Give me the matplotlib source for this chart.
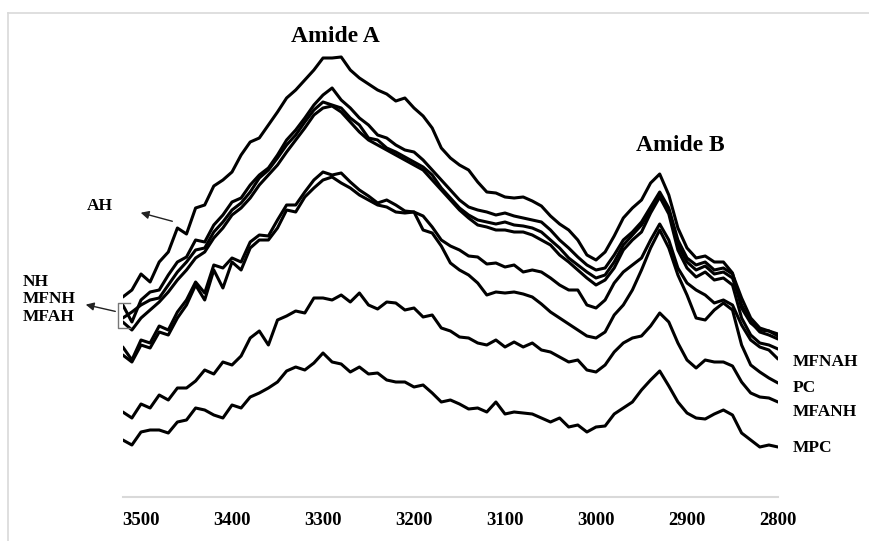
import numpy as np
import matplotlib
matplotlib.use("Agg")
import matplotlib.pyplot as plt

W, H = 870, 541
SERIF = ["Liberation Serif", "DejaVu Serif"]
FRAME = "#d9d9d9"

# wavenumber grid (cm-1), high to low
wavenumber = np.arange(3520, 2790, -10)

# absorbance, arbitrary units (x100, stacked as recorded)
AH = [203, 210, 226, 218, 238, 248, 272, 266, 292, 295,
      314, 320, 328, 345, 358, 362, 375, 388, 402, 410,
      420, 430, 442, 442, 443, 430, 422, 416, 410, 406,
      399, 402, 392, 384, 372, 352, 342, 335, 330, 318,
      308, 307, 303, 302, 303, 299, 294, 284, 276, 270,
      260, 245, 240, 248, 264, 282, 292, 300, 317, 326,
      305, 272, 252, 242, 244, 238, 238, 227, 192, 177,
      170, 169, 166]
NH = [195, 178, 200, 208, 210, 225, 238, 243, 260, 258,
      275, 285, 298, 302, 315, 325, 332, 345, 360, 370,
      382, 395, 405, 412, 400, 392, 382, 375, 365, 362,
      355, 350, 348, 340, 330, 320, 310, 300, 293, 290,
      288, 285, 287, 284, 282, 280, 278, 270, 260, 252,
      243, 235, 230, 232, 245, 260, 268, 278, 293, 308,
      292, 260, 242, 235, 238, 230, 232, 226, 202, 182,
      172, 169, 164]
MFNH = [182, 188, 195, 200, 202, 215, 228, 238, 250, 252,
        268, 278, 290, 297, 308, 322, 330, 342, 355, 365,
        378, 390, 398, 395, 392, 382, 375, 362, 360, 352,
        348, 343, 338, 333, 325, 312, 302, 292, 285, 280,
        278, 276, 278, 275, 274, 272, 268, 260, 252, 242,
        235, 228, 222, 225, 238, 255, 265, 275, 290, 305,
        290, 255, 238, 230, 234, 226, 228, 222, 195, 178,
        168, 165, 161]
MFAH = [178, 170, 182, 190, 198, 208, 220, 230, 242, 248,
        262, 272, 285, 292, 302, 315, 325, 335, 348, 360,
        372, 385, 392, 394, 388, 378, 368, 360, 355, 350,
        345, 340, 335, 330, 320, 310, 300, 290, 282, 275,
        273, 270, 270, 268, 268, 265, 260, 255, 245, 238,
        230, 222, 215, 220, 232, 250, 260, 268, 287, 303,
        286, 250, 232, 223, 228, 220, 222, 215, 182, 165,
        157, 155, 151]
MFNAH = [153, 140, 160, 157, 174, 170, 188, 200, 218, 207,
         235, 232, 242, 238, 258, 265, 264, 280, 295, 295,
         308, 320, 328, 325, 327, 318, 310, 304, 297, 300,
         295, 289, 288, 284, 273, 260, 254, 250, 244, 243,
         236, 237, 233, 235, 228, 230, 228, 222, 215, 210,
         210, 195, 192, 200, 217, 228, 235, 242, 260, 276,
         260, 232, 217, 210, 205, 197, 200, 195, 175, 160,
         153, 150, 141]
PC = [145, 138, 155, 152, 168, 165, 182, 195, 215, 200,
      230, 212, 238, 230, 252, 260, 260, 272, 290, 288,
      303, 312, 320, 323, 317, 312, 305, 300, 295, 293,
      288, 287, 288, 270, 267, 254, 237, 230, 225, 217,
      205, 208, 207, 208, 206, 203, 196, 188, 182, 176,
      170, 164, 162, 168, 185, 195, 210, 230, 252, 270,
      252, 225, 205, 182, 180, 190, 197, 190, 155, 135,
      128, 122, 117]
MFANH = [88, 82, 96, 92, 105, 100, 112, 112, 119, 130,
         126, 138, 135, 144, 162, 169, 155, 180, 184, 189,
         187, 202, 202, 200, 205, 198, 207, 195, 191, 198,
         197, 190, 192, 183, 185, 172, 169, 163, 162, 157,
         155, 160, 153, 158, 153, 157, 150, 148, 143, 138,
         140, 130, 128, 135, 148, 157, 162, 164, 174, 187,
         178, 157, 140, 132, 140, 138, 138, 134, 118, 107,
         103, 102, 98]
MPC = [60, 55, 68, 70, 70, 67, 78, 80, 92, 90,
       85, 82, 95, 92, 103, 107, 112, 118, 129, 133,
       130, 137, 147, 138, 136, 128, 133, 126, 127, 120,
       118, 118, 113, 115, 107, 98, 100, 96, 91, 92,
       88, 98, 86, 88, 87, 86, 82, 78, 82, 73,
       75, 68, 73, 74, 86, 92, 98, 110, 120, 129,
       114, 98, 87, 82, 81, 86, 90, 85, 67, 60,
       53, 55, 53]

samples = [AH, NH, MFNH, MFAH, MFNAH, PC, MFANH, MPC]
ticks = [3500, 3400, 3300, 3200, 3100, 3000, 2900, 2800]


def fx(px):
    return px / W


def fy(py):
    return 1 - py / H


fig = plt.figure(figsize=(W / 100, H / 100), dpi=100, facecolor="white")

# light frame around the plot area
fig.add_artist(plt.Line2D([fx(8), fx(8)], [fy(13), 0], color=FRAME, lw=1.2))
fig.add_artist(plt.Line2D([fx(8), 1], [fy(13), fy(13)], color=FRAME, lw=1.2))

ax = fig.add_axes([fx(122.8), 1 - 497 / H, (778 - 122.8) / W, 497 / H])
ax.set_xlim(3520, 2800)
ax.set_ylim(3, 500)
for y in samples:
    ax.plot(wavenumber, y, color="black", lw=2.2, solid_joinstyle="round",
            solid_capstyle="round")

for s in ["top", "left", "right"]:
    ax.spines[s].set_visible(False)
ax.spines["bottom"].set_color(FRAME)
ax.spines["bottom"].set_linewidth(1.5)
ax.set_yticks([])
ax.set_xticks(ticks)
ax.set_xticklabels([str(t) for t in ticks], fontfamily=SERIF, fontweight="bold",
                   fontsize=13.5)
ax.tick_params(axis="x", length=0, pad=11)
ax.patch.set_visible(False)

bold = dict(fontfamily=SERIF, fontweight="bold", color="black")
fig.text(fx(335), fy(37), "Amide A", ha="center", va="center", fontsize=17, **bold)
fig.text(fx(680), fy(145), "Amide B", ha="center", va="center", fontsize=17, **bold)

fig.text(fx(87), fy(206), "AH", ha="left", va="center", fontsize=12.5, **bold)
fig.text(fx(23), fy(282), "NH", ha="left", va="center", fontsize=12.5, **bold)
fig.text(fx(23), fy(299), "MFNH", ha="left", va="center", fontsize=12.5, **bold)
fig.text(fx(23), fy(317), "MFAH", ha="left", va="center", fontsize=12.5, **bold)

for name, py in [("MFNAH", 362), ("PC", 388), ("MFANH", 412), ("MPC", 448)]:
    fig.text(fx(793), fy(py), name, ha="left", va="center", fontsize=12.5, **bold)

arrow = dict(arrowstyle="-|>", color="#222222", lw=1.0, mutation_scale=12)
ax.annotate("", xy=(fx(138), fy(212)), xytext=(fx(175), fy(222)),
            xycoords="figure fraction", textcoords="figure fraction",
            arrowprops=arrow, annotation_clip=False)
ax.annotate("", xy=(fx(83), fy(304)), xytext=(fx(118), fy(312)),
            xycoords="figure fraction", textcoords="figure fraction",
            arrowprops=arrow, annotation_clip=False)

# bracket around the grouped traces at the left edge
fig.add_artist(plt.Line2D([fx(130), fx(118), fx(118), fx(130)],
                          [fy(303), fy(303), fy(328), fy(328)],
                          color="#777777", lw=1.0))

fig.savefig("out.png", dpi=100, facecolor="white")
